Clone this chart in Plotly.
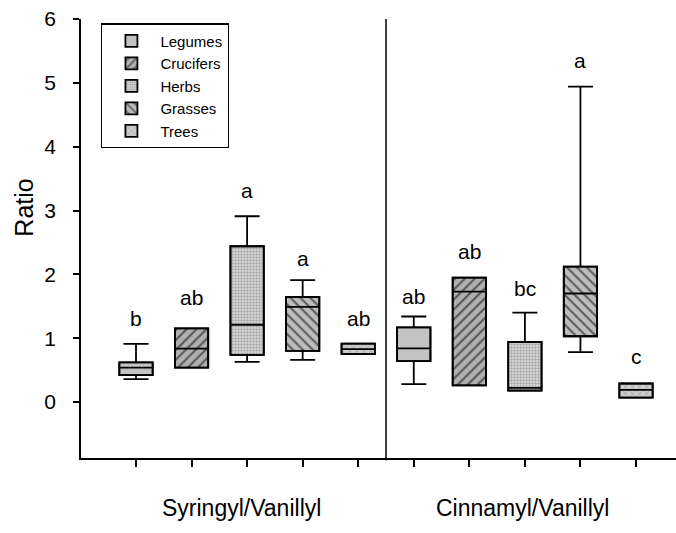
import plotly.graph_objects as go

# ---------------- data ----------------
types = ["Legumes", "Crucifers", "Herbs", "Grasses", "Trees"]
groups = ["Syringyl/Vanillyl", "Cinnamyl/Vanillyl"]

sv_low = [0.36, 0.54, 0.63, 0.66, 0.75]
sv_q1 = [0.42, 0.54, 0.74, 0.80, 0.75]
sv_med = [0.54, 0.835, 1.21, 1.49, 0.83]
sv_q3 = [0.62, 1.155, 2.44, 1.645, 0.915]
sv_high = [0.91, 1.155, 2.91, 1.91, 0.915]

cv_low = [0.28, 0.26, 0.18, 0.78, 0.07]
cv_q1 = [0.64, 0.26, 0.18, 1.03, 0.07]
cv_med = [0.84, 1.73, 0.22, 1.70, 0.19]
cv_q3 = [1.17, 1.95, 0.94, 2.12, 0.29]
cv_high = [1.34, 1.95, 1.40, 4.94, 0.29]

sv_letters = ["b", "ab", "a", "a", "ab"]
sv_letter_y = [1.175, 1.504, 3.18, 2.115, 1.175]
cv_letters = ["ab", "ab", "bc", "a", "c"]
cv_letter_y = [1.52, 2.225, 1.645, 5.22, 0.58]

y_ticks = [0, 1, 2, 3, 4, 5, 6]

# ---------------- styles ----------------
FONT = "Liberation Sans, Arial, sans-serif"
styles = {
    "Legumes": dict(color="#c3c3c3", pattern=dict(shape="")),
    "Crucifers": dict(color="#b0b0b0", pattern=dict(shape="/", fgcolor="#000000", bgcolor="#b0b0b0", size=7, solidity=0.3)),
    "Herbs": dict(color="#cccccc", pattern=dict(shape=".", fgcolor="#6a6a6a", bgcolor="#d2d2d2", size=3, solidity=0.35)),
    "Grasses": dict(color="#b8b8b8", pattern=dict(shape="\\", fgcolor="#000000", bgcolor="#bdbdbd", size=7, solidity=0.3)),
    "Trees": dict(color="#c8c8c8", pattern=dict(shape="x", fgcolor="#666666", bgcolor="#cdcdcd", size=5, solidity=0.2)),
}

fig = go.Figure()
n = len(types)
for i, t in enumerate(types):
    xs = [i + 1, i + 1 + n]
    q1 = [sv_q1[i], cv_q1[i]]
    q3 = [sv_q3[i], cv_q3[i]]
    st = styles[t]
    fig.add_trace(go.Bar(
        x=xs, base=q1, y=[b - a for a, b in zip(q1, q3)], width=0.6, name=t,
        marker=dict(color=st["color"], pattern=st["pattern"], line=dict(color="black", width=1.8)),
        hoverinfo="skip",
    ))
    fig.add_trace(go.Box(
        x=xs, q1=q1, median=[sv_med[i], cv_med[i]], q3=q3,
        lowerfence=[sv_low[i], cv_low[i]], upperfence=[sv_high[i], cv_high[i]],
        width=0.6, whiskerwidth=0.75, fillcolor="rgba(0,0,0,0)",
        line=dict(color="black", width=1.8), showlegend=False, hoverinfo="skip",
        boxpoints=False,
    ))

LETTER_SIZE = 21
annotations = []
for i in range(n):
    annotations.append(dict(x=i + 1, y=sv_letter_y[i], text=sv_letters[i], showarrow=False,
                            yanchor="bottom", yshift=-5, font=dict(size=LETTER_SIZE, family=FONT, color="black")))
    annotations.append(dict(x=i + 1 + n, y=cv_letter_y[i], text=cv_letters[i], showarrow=False,
                            yanchor="bottom", yshift=-5, font=dict(size=LETTER_SIZE, family=FONT, color="black")))

annotations.append(dict(x=2.89, y=-0.113, xref="x", yref="paper", text=groups[0], showarrow=False,
                        yanchor="middle", font=dict(size=23, family=FONT, color="black")))
annotations.append(dict(x=7.96, y=-0.113, xref="x", yref="paper", text=groups[1], showarrow=False,
                        yanchor="middle", font=dict(size=23, family=FONT, color="black")))
annotations.append(dict(x=-0.096, y=0.57, xref="paper", yref="paper", text="Ratio", textangle=-90,
                        showarrow=False, xanchor="center", yanchor="middle",
                        font=dict(size=25, family=FONT, color="black")))

fig.update_layout(
    width=676, height=533,
    margin=dict(l=81, r=0, t=19, b=75),
    paper_bgcolor="white", plot_bgcolor="white",
    barmode="overlay", boxmode="overlay",
    font=dict(family=FONT, color="black"),
    annotations=annotations,
    legend=dict(x=0.034, y=0.99, xanchor="left", yanchor="top",
                bgcolor="white", bordercolor="black", borderwidth=1.2,
                itemwidth=48,
                font=dict(size=15, family=FONT, color="black"), tracegroupgap=0),
    shapes=[dict(type="line", xref="x", yref="paper", x0=5.5, x1=5.5, y0=-0.005, y1=1.0,
                 line=dict(color="black", width=1.5))],
)
fig.update_xaxes(range=[0.01, 10.72], tickvals=list(range(1, 2 * n + 1)), showticklabels=False,
                 ticks="outside", ticklen=7, tickwidth=1.5, tickcolor="black",
                 showline=True, linecolor="black", linewidth=1.5, showgrid=False, zeroline=False)
fig.update_yaxes(range=[-0.877, 6], tickvals=y_ticks, ticks="outside", ticklen=6, tickwidth=1.5,
                 tickcolor="black", showline=True, linecolor="black", linewidth=1.5,
                 showgrid=False, zeroline=False, ticklabelstandoff=13,
                 tickfont=dict(size=21, family=FONT, color="black"))

fig.write_html("out.html")
